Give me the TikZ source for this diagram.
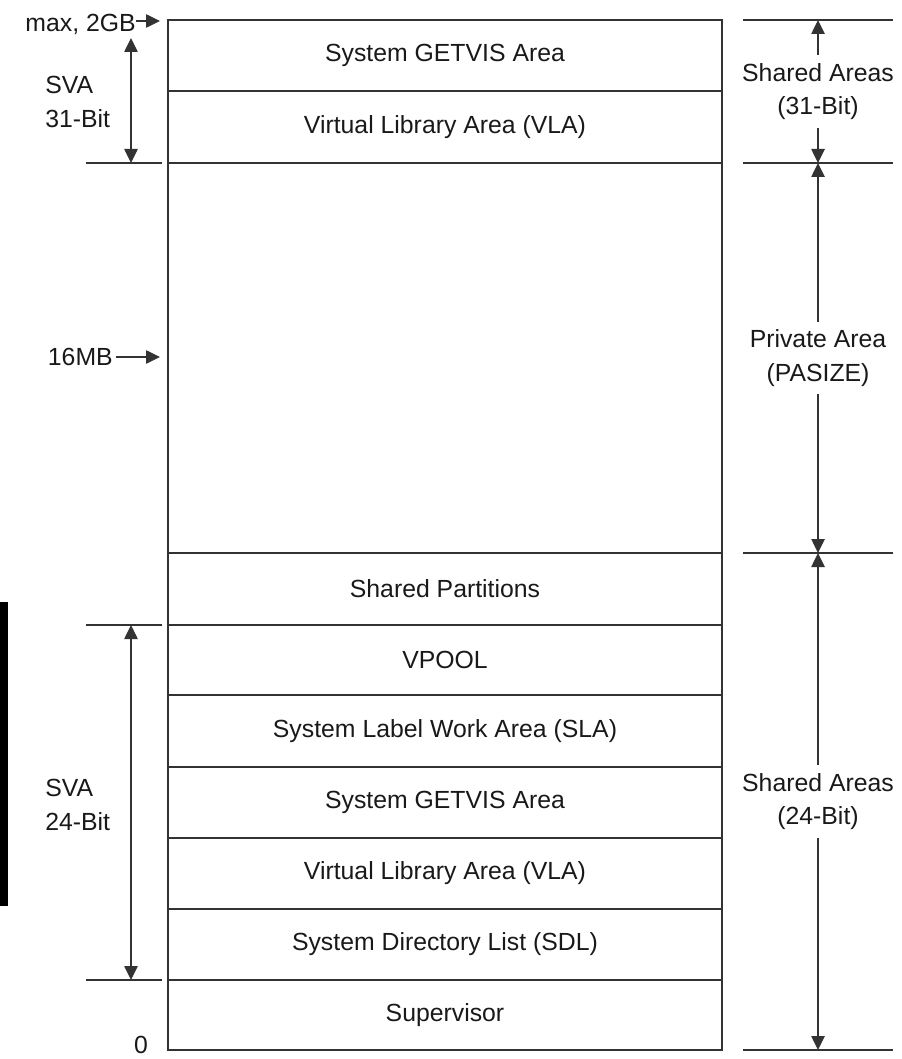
\documentclass[tikz,border=0pt]{standalone}
\usepackage{fontspec}
\setmainfont{Liberation Sans}
\usetikzlibrary{arrows.meta}
\tikzset{
	memline/.style={draw=black!80, line width=1.1pt},
	tip/.style={-{Triangle[length=10.5pt,width=10pt]}},
	dim/.style={{Triangle[length=10.5pt,width=10pt]}-{Triangle[length=10.5pt,width=10pt]}},
	lbl/.style={font=\fontsize{18.6}{25}\selectfont, text=black!90, inner sep=0pt},
}

\begin{document}
\begin{tikzpicture}[x=0.75pt,y=-0.75pt]
	\useasboundingbox (0,0) rectangle (902,1059);
	\fill[black] (0,602) rectangle (8,906);
	% address space, top to bottom
	\foreach \ya/\yb/\nm/\txt in {20/91/getvisA/System GETVIS Area, 91/163/vlaA/Virtual Library Area (VLA), 163/553/priv/{}, 553/625/shpart/Shared Partitions, 625/695/vpool/VPOOL, 695/767/sla/System Label Work Area (SLA), 767/838/getvisB/System GETVIS Area, 838/909/vlaB/Virtual Library Area (VLA), 909/980/sdl/System Directory List (SDL), 980/1050/sup/Supervisor}
	{
		\draw[memline] (168,\ya) rectangle (722,\yb);
		\node[lbl] (\nm) at (445,{(\ya+\yb)/2}) {\txt};
	}
	% ticks
	\foreach \y in {163,625,980}
		\draw[memline] (86,\y) -- (162,\y);
	\foreach \y in {20,163,553,1050}
		\draw[memline] (743,\y) -- (893,\y);
	% left side
	\node[lbl, anchor=base east] (max) at (136,32) {max, 2GB};
	\coordinate (maxpt) at (160,21);
	\draw[memline, tip] (max.east |- maxpt) -- (maxpt);
	\node[lbl, anchor=east] (mb16) at (113,357) {16MB};
	\coordinate (mbpt) at (160,357);
	\draw[memline, tip, shorten <=2pt] (mb16) -- (mbpt);
	\node[lbl, align=left, anchor=west] (svaA) at (45,102) {SVA\\31-Bit};
	\node[lbl, align=left, anchor=west] (svaB) at (45,805) {SVA\\24-Bit};
	\coordinate (svaAtop) at (131,38);
	\coordinate (svaAbot) at (131,163);
	\coordinate (svaBtop) at (131,625);
	\coordinate (svaBbot) at (131,980);
	\draw[memline, dim] (svaAtop) -- (svaAbot);
	\draw[memline, dim] (svaBtop) -- (svaBbot);
	\node[lbl] (zero) at (141,1045) {0};
	% right side
	\node[lbl, align=center, inner sep=6pt] (shA) at (818,91.5) {Shared Areas\\(31-Bit)};
	\node[lbl, align=center, inner sep=6pt] (prA) at (818,358) {Private Area\\(PASIZE)};
	\node[lbl, align=center, inner sep=6pt] (shB) at (818,801.5) {Shared Areas\\(24-Bit)};
	\coordinate (r20) at (818,20);
	\coordinate (r163) at (818,163);
	\coordinate (r553) at (818,553);
	\coordinate (r1050) at (818,1050);
	\draw[memline, tip] (shA) -- (r20);
	\draw[memline, tip] (shA) -- (r163);
	\draw[memline, tip] (prA) -- (r163);
	\draw[memline, tip] (prA) -- (r553);
	\draw[memline, tip] (shB) -- (r553);
	\draw[memline, tip] (shB) -- (r1050);
\end{tikzpicture}
\end{document}
